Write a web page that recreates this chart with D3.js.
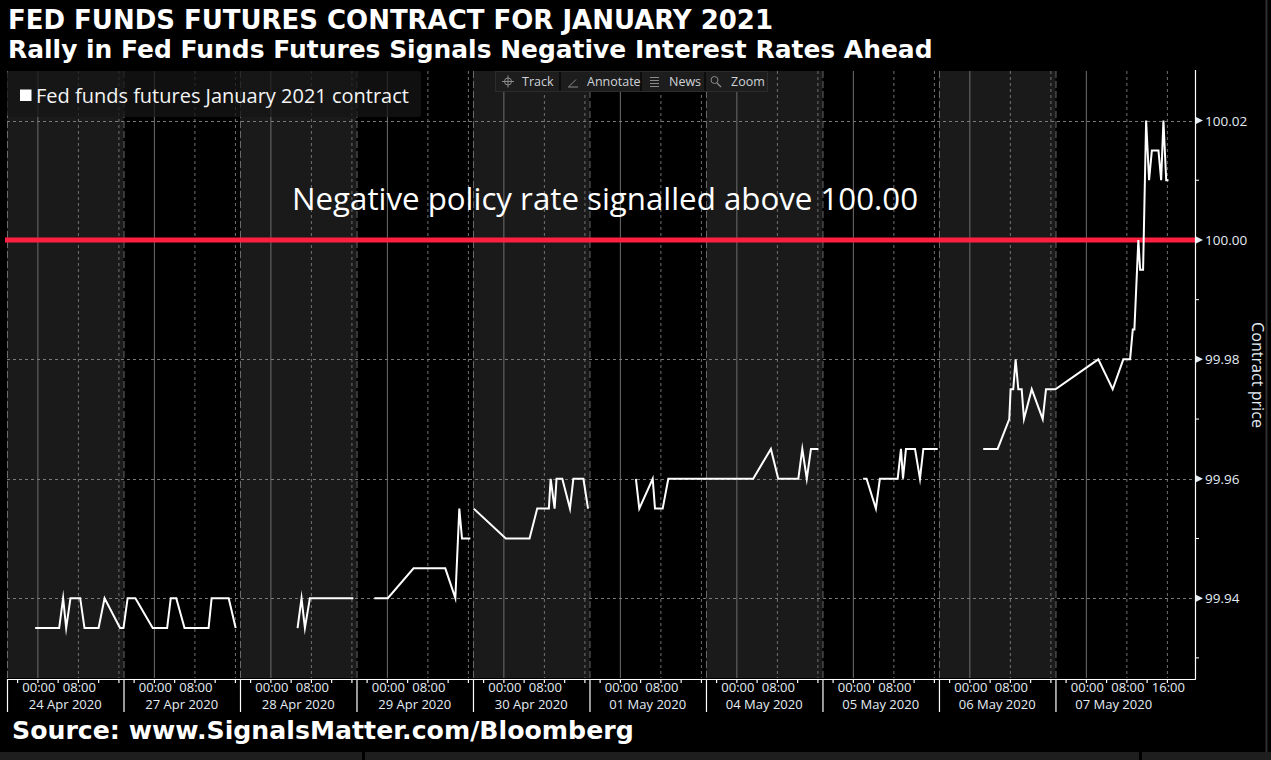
<!DOCTYPE html>
<html><head><meta charset="utf-8">
<script src="https://cdn.jsdelivr.net/npm/d3@7"></script>
<style>html,body{margin:0;padding:0;background:#000;overflow:hidden}</style>
</head><body>
<svg id="chart" width="1271" height="760"></svg>
<script>
// ---------------- data ----------------
const title = "FED FUNDS FUTURES CONTRACT FOR JANUARY 2021";
const subtitle = "Rally in Fed Funds Futures Signals Negative Interest Rates Ahead";
const source = "Source: www.SignalsMatter.com/Bloomberg";
const seriesName = "Fed funds futures January 2021 contract";
const annotation = "Negative policy rate signalled above 100.00";
const yAxisTitle = "Contract price";
const toolbarItems = ["Track", "Annotate", "News", "Zoom"];

const sessions = ["24 Apr 2020", "27 Apr 2020", "28 Apr 2020", "29 Apr 2020", "30 Apr 2020",
                  "01 May 2020", "04 May 2020", "05 May 2020", "06 May 2020", "07 May 2020"];
const sessionLength = 23;          // hours, 18:00 prior evening -> 17:00
const sessionOpenOffset = 6;       // hours from open to midnight
const lastSessionLength = 27.55;   // axis runs past the close on the last day
const minorTickHours = [-4, 0, 4, 8, 12, 16];
const labelTickHours = [0, 8];
const lastLabelTickHours = [0, 8, 16];
const yMajorTicks = [99.94, 99.96, 99.98, 100.00, 100.02];
const yMinorTicks = [99.93, 99.95, 99.97, 99.99, 100.01];
const yDomain = [99.92663, 100.0283];
const threshold = 100.00;
const breakAfterSession = [1, 2, 3, 4, 6, 7];

// [session index, time (>=17:00 means prior evening), price]
const prices = [
  [0,"23:33",99.935],[0,"04:18",99.935],[0,"05:05",99.94],[0,"05:41",99.935],[0,"06:32",99.94],
  [0,"08:27",99.94],[0,"09:18",99.935],[0,"12:05",99.935],[0,"13:16",99.94],[0,"16:19",99.935],
  [1,"18:00",99.935],[1,"18:49",99.94],[1,"20:21",99.94],[1,"23:46",99.935],[1,"02:37",99.935],
  [1,"03:20",99.94],[1,"04:25",99.94],[1,"06:03",99.935],[1,"10:48",99.935],[1,"11:24",99.94],
  [1,"14:46",99.94],[1,"16:09",99.935],
  [2,"05:22",99.935],[2,"06:09",99.94],[2,"06:49",99.935],[2,"07:48",99.94],[2,"16:23",99.94],
  [3,"21:32",99.94],[3,"00:11",99.94],[3,"05:16",99.945],[3,"11:32",99.945],[3,"13:31",99.94],
  [3,"14:18",99.955],[3,"14:50",99.95],[3,"16:29",99.95],
  [4,"18:08",99.955],[4,"00:29",99.95],[4,"05:10",99.95],[4,"06:41",99.955],[4,"08:59",99.955],
  [4,"09:20",99.96],[4,"10:07",99.955],[4,"10:30",99.96],[4,"11:38",99.96],[4,"13:09",99.955],
  [4,"13:49",99.96],[4,"15:48",99.96],[4,"16:43",99.955],
  [5,"03:10",99.96],[5,"03:50",99.955],[5,"06:29",99.96],[5,"06:56",99.955],[5,"08:27",99.955],
  [5,"09:34",99.96],[5,"16:11",99.96],
  [6,"18:00",99.96],[6,"03:19",99.96],[6,"06:49",99.965],[6,"08:16",99.96],[6,"12:14",99.96],
  [6,"13:01",99.965],[6,"13:54",99.96],[6,"14:44",99.965],[6,"16:12",99.965],
  [7,"02:02",99.96],[7,"02:42",99.96],[7,"04:33",99.955],[7,"05:20",99.96],[7,"08:51",99.96],
  [7,"09:30",99.965],[7,"09:54",99.96],[7,"10:29",99.965],[7,"12:16",99.965],[7,"13:15",99.96],
  [7,"13:55",99.965],[7,"16:45",99.965],
  [8,"02:44",99.965],[8,"05:35",99.965],[8,"07:53",99.97],[8,"08:09",99.975],[8,"08:40",99.975],
  [8,"09:08",99.98],[8,"09:40",99.975],[8,"10:20",99.975],[8,"10:47",99.97],[8,"12:19",99.975],
  [8,"14:29",99.97],[8,"15:08",99.975],[8,"16:16",99.975],
  [9,"18:00",99.975],[9,"02:27",99.98],[9,"05:18",99.975],[9,"07:24",99.98],[9,"08:44",99.98],
  [9,"09:16",99.985],[9,"09:35",99.985],[9,"10:22",100.00],[9,"10:43",99.995],[9,"11:18",99.995],
  [9,"11:54",100.02],[9,"12:29",100.01],[9,"13:02",100.015],[9,"14:20",100.015],[9,"14:52",100.01],
  [9,"15:19",100.02],[9,"15:52",100.01],[9,"16:19",100.01]
];

// ---------------- helpers ----------------
function tradingHour(s, t) {
  const [hh, mm] = t.split(":").map(Number);
  let h = hh + mm / 60;
  if (hh >= 17) h -= 24;
  return s * sessionLength + sessionOpenOffset + h;
}
function fit(sel, w) {
  const cur = parseFloat(sel.attr("font-size"));
  const len = sel.node().getComputedTextLength();
  sel.attr("font-size", (cur * w / len).toFixed(2));
}

const svg = d3.select("#chart");
const W = 1271, H = 760;
const plot = {left: 7, right: 1195, top: 71, bottom: 678};
const totalHours = (sessions.length - 1) * sessionLength + lastSessionLength;

const x = d3.scaleLinear().domain([0, totalHours]).range([plot.left, plot.right]);
const y = d3.scaleLinear().domain(yDomain).range([plot.bottom, plot.top]);

svg.append("rect").attr("width", W).attr("height", H).attr("fill", "#000");

// session bands
sessions.forEach((s, i) => {
  if (i % 2 === 0) {
    const end = i === sessions.length - 1 ? totalHours : (i + 1) * sessionLength;
    svg.append("rect").attr("x", x(i * sessionLength)).attr("y", plot.top)
      .attr("width", x(end) - x(i * sessionLength)).attr("height", plot.bottom - plot.top)
      .attr("fill", "#1a1a1a");
  }
});

// vertical grid
const grid = svg.append("g");
sessions.forEach((s, i) => {
  const base = i * sessionLength + sessionOpenOffset;
  grid.append("line").attr("x1", x(base) + 0.5).attr("x2", x(base) + 0.5)
    .attr("y1", plot.top).attr("y2", plot.bottom).attr("stroke", "#6e6e6e").attr("stroke-width", 1);
  [8, 16].forEach(h => {
    grid.append("line").attr("x1", x(base + h) + 0.5).attr("x2", x(base + h) + 0.5)
      .attr("y1", plot.top).attr("y2", plot.bottom).attr("stroke", "#707070")
      .attr("stroke-dasharray", "3,3");
  });
  grid.append("line").attr("x1", x(i * sessionLength) + 0.5).attr("x2", x(i * sessionLength) + 0.5)
    .attr("y1", plot.top).attr("y2", plot.bottom).attr("stroke", "#6a6a6a")
    .attr("stroke-dasharray", "7,3");
});
// horizontal grid
yMajorTicks.forEach(v => {
  grid.append("line").attr("x1", plot.left).attr("x2", plot.right)
    .attr("y1", Math.round(y(v)) + 0.5).attr("y2", Math.round(y(v)) + 0.5)
    .attr("stroke", "#7a7a7a").attr("stroke-dasharray", "3,3");
});

// legend
svg.append("rect").attr("x", 7).attr("y", 71).attr("width", 414).attr("height", 46).attr("rx", 3)
  .attr("fill", "#161616").attr("opacity", 0.75);
svg.append("rect").attr("x", 20).attr("y", 89.5).attr("width", 11.5).attr("height", 11.5).attr("fill", "#fff");
const lg = svg.append("text").attr("x", 36).attr("y", 103).attr("font-family", "'Open Sans', sans-serif")
  .attr("font-size", 19).attr("fill", "#f4f4f4").text(seriesName);
fit(lg, 373);

// threshold line
svg.append("line").attr("x1", plot.left - 2).attr("x2", plot.right)
  .attr("y1", y(threshold)).attr("y2", y(threshold))
  .attr("stroke", "#ff1f40").attr("stroke-width", 5);

// annotation
const ann = svg.append("text").attr("x", 605).attr("y", 210).attr("text-anchor", "middle")
  .attr("font-family", "'Open Sans', sans-serif").attr("font-size", 30).attr("fill", "#fff").text(annotation);
fit(ann, 626);

// data line
const pts = [];
prices.forEach((p, i) => {
  if (i > 0 && prices[i - 1][0] !== p[0] && breakAfterSession.includes(prices[i - 1][0])) pts.push(null);
  pts.push({h: tradingHour(p[0], p[1]), v: p[2]});
});
const line = d3.line().defined(d => d !== null).x(d => x(d.h)).y(d => y(d.v));
svg.append("path").attr("d", line(pts)).attr("fill", "none").attr("stroke", "#fff")
  .attr("stroke-width", 2).attr("stroke-linejoin", "miter").attr("stroke-miterlimit", 10);

// x axis
const minorVals = [], majorVals = [];
sessions.forEach((s, i) => {
  majorVals.push(i * sessionLength);
  minorTickHours.forEach(h => minorVals.push(i * sessionLength + sessionOpenOffset + h));
});
const xMinor = svg.append("g").attr("transform", `translate(0,${plot.bottom + 1})`)
  .call(d3.axisBottom(x).tickValues(minorVals).tickSize(4).tickSizeOuter(0).tickFormat(""));
const xMajor = svg.append("g").attr("transform", `translate(0,${plot.bottom + 1})`)
  .call(d3.axisBottom(x).tickValues(majorVals).tickSize(33).tickSizeOuter(0).tickFormat(""));
[xMinor, xMajor].forEach(g => {
  g.selectAll("path,line").attr("stroke", "#fff").attr("stroke-width", 1.2);
});
const labCol = "#e4ecf4";
sessions.forEach((s, i) => {
  const base = i * sessionLength + sessionOpenOffset;
  const hs = i === sessions.length - 1 ? lastLabelTickHours : labelTickHours;
  hs.forEach(h => {
    svg.append("text").attr("x", x(base + h) + 1.5).attr("y", 692).attr("text-anchor", "middle")
      .attr("font-family", "'Open Sans', sans-serif").attr("font-size", 13).attr("fill", labCol)
      .text(d3.timeFormat("%H:%M")(new Date(2020, 0, 1, h)));
  });
  svg.append("text").attr("x", x(i * sessionLength + sessionLength / 2)).attr("y", 708.5)
    .attr("text-anchor", "middle").attr("font-family", "'Open Sans', sans-serif")
    .attr("font-size", 13).attr("fill", labCol).text(s);
});

// y axis
svg.append("line").attr("x1", plot.right + 0.5).attr("x2", plot.right + 0.5)
  .attr("y1", plot.top - 1).attr("y2", plot.bottom + 1.5).attr("stroke", "#fff").attr("stroke-width", 1.2);
yMinorTicks.forEach(v => {
  svg.append("line").attr("x1", plot.right).attr("x2", plot.right + 4)
    .attr("y1", y(v)).attr("y2", y(v)).attr("stroke", "#fff").attr("stroke-width", 1);
});
yMajorTicks.forEach(v => {
  const yy = y(v);
  svg.append("path").attr("d", `M${plot.right + 1},${yy - 3.5}L${plot.right + 8},${yy}L${plot.right + 1},${yy + 3.5}Z`)
    .attr("fill", labCol);
  svg.append("text").attr("x", plot.right + 10).attr("y", yy + 5)
    .attr("font-family", "'Open Sans', sans-serif").attr("font-size", 13.5).attr("fill", labCol)
    .text(d3.format(".2f")(v));
});
const yt = svg.append("text").attr("transform", "translate(1252,375) rotate(90)").attr("text-anchor", "middle")
  .attr("font-family", "'Open Sans', sans-serif").attr("font-size", 15).attr("fill", labCol).text(yAxisTitle);
fit(yt, 106);

// toolbar
const tb = svg.append("g");
tb.append("rect").attr("x", 495.5).attr("y", 71.5).attr("width", 272).attr("height", 20).attr("fill", "#1d1d1d")
  .attr("stroke", "#2c2c2c");
[560, 641, 705].forEach(sx => tb.append("line").attr("x1", sx).attr("x2", sx).attr("y1", 72).attr("y2", 91)
  .attr("stroke", "#0c0c0c").attr("stroke-width", 2));
const tbText = [522, 587, 669, 731];
toolbarItems.forEach((t, i) => {
  tb.append("text").attr("x", tbText[i]).attr("y", 86).attr("font-family", "'Open Sans', sans-serif")
    .attr("font-size", 12.5).attr("fill", "#cfd3d8").text(t);
});
const ic = "#8a8a8a";
tb.append("circle").attr("cx", 508).attr("cy", 81.5).attr("r", 3.5).attr("fill", "none").attr("stroke", ic);
tb.append("path").attr("d", "M502,81.5H514M508,75.5V87.5").attr("stroke", ic);
tb.append("path").attr("d", "M569,86.5L576,79.5M568,87H578").attr("stroke", ic);
tb.append("path").attr("d", "M650,77.5H659M650,80.5H659M650,83.5H659M650,86.5H659").attr("stroke", ic);
tb.append("circle").attr("cx", 714.5).attr("cy", 80).attr("r", 3.5).attr("fill", "none").attr("stroke", ic);
tb.append("path").attr("d", "M717,83L721,87").attr("stroke", ic).attr("stroke-width", 1.3);

// titles
const t1 = svg.append("text").attr("x", 8).attr("y", 29).attr("font-family", "'DejaVu Sans', sans-serif")
  .attr("font-weight", "bold").attr("font-size", 24).attr("fill", "#fff").text(title);
fit(t1, 765);
const t2 = svg.append("text").attr("x", 8).attr("y", 58).attr("font-family", "'DejaVu Sans', sans-serif")
  .attr("font-weight", "bold").attr("font-size", 24).attr("fill", "#fff").text(subtitle);
fit(t2, 925);
const t3 = svg.append("text").attr("x", 12).attr("y", 739).attr("font-family", "'DejaVu Sans', sans-serif")
  .attr("font-weight", "bold").attr("font-size", 24).attr("fill", "#fff").text(source);
fit(t3, 622);

// window chrome
svg.append("rect").attr("x", 0).attr("y", 752).attr("width", W).attr("height", 8).attr("fill", "#1e1e1e");
[362, 1139].forEach(gx => svg.append("rect").attr("x", gx).attr("y", 752).attr("width", 3).attr("height", 8).attr("fill", "#000"));
svg.append("line").attr("x1", 1266.5).attr("x2", 1266.5).attr("y1", 0).attr("y2", 752)
  .attr("stroke", "#2e2e2e").attr("stroke-width", 2);
</script>
</body></html>
